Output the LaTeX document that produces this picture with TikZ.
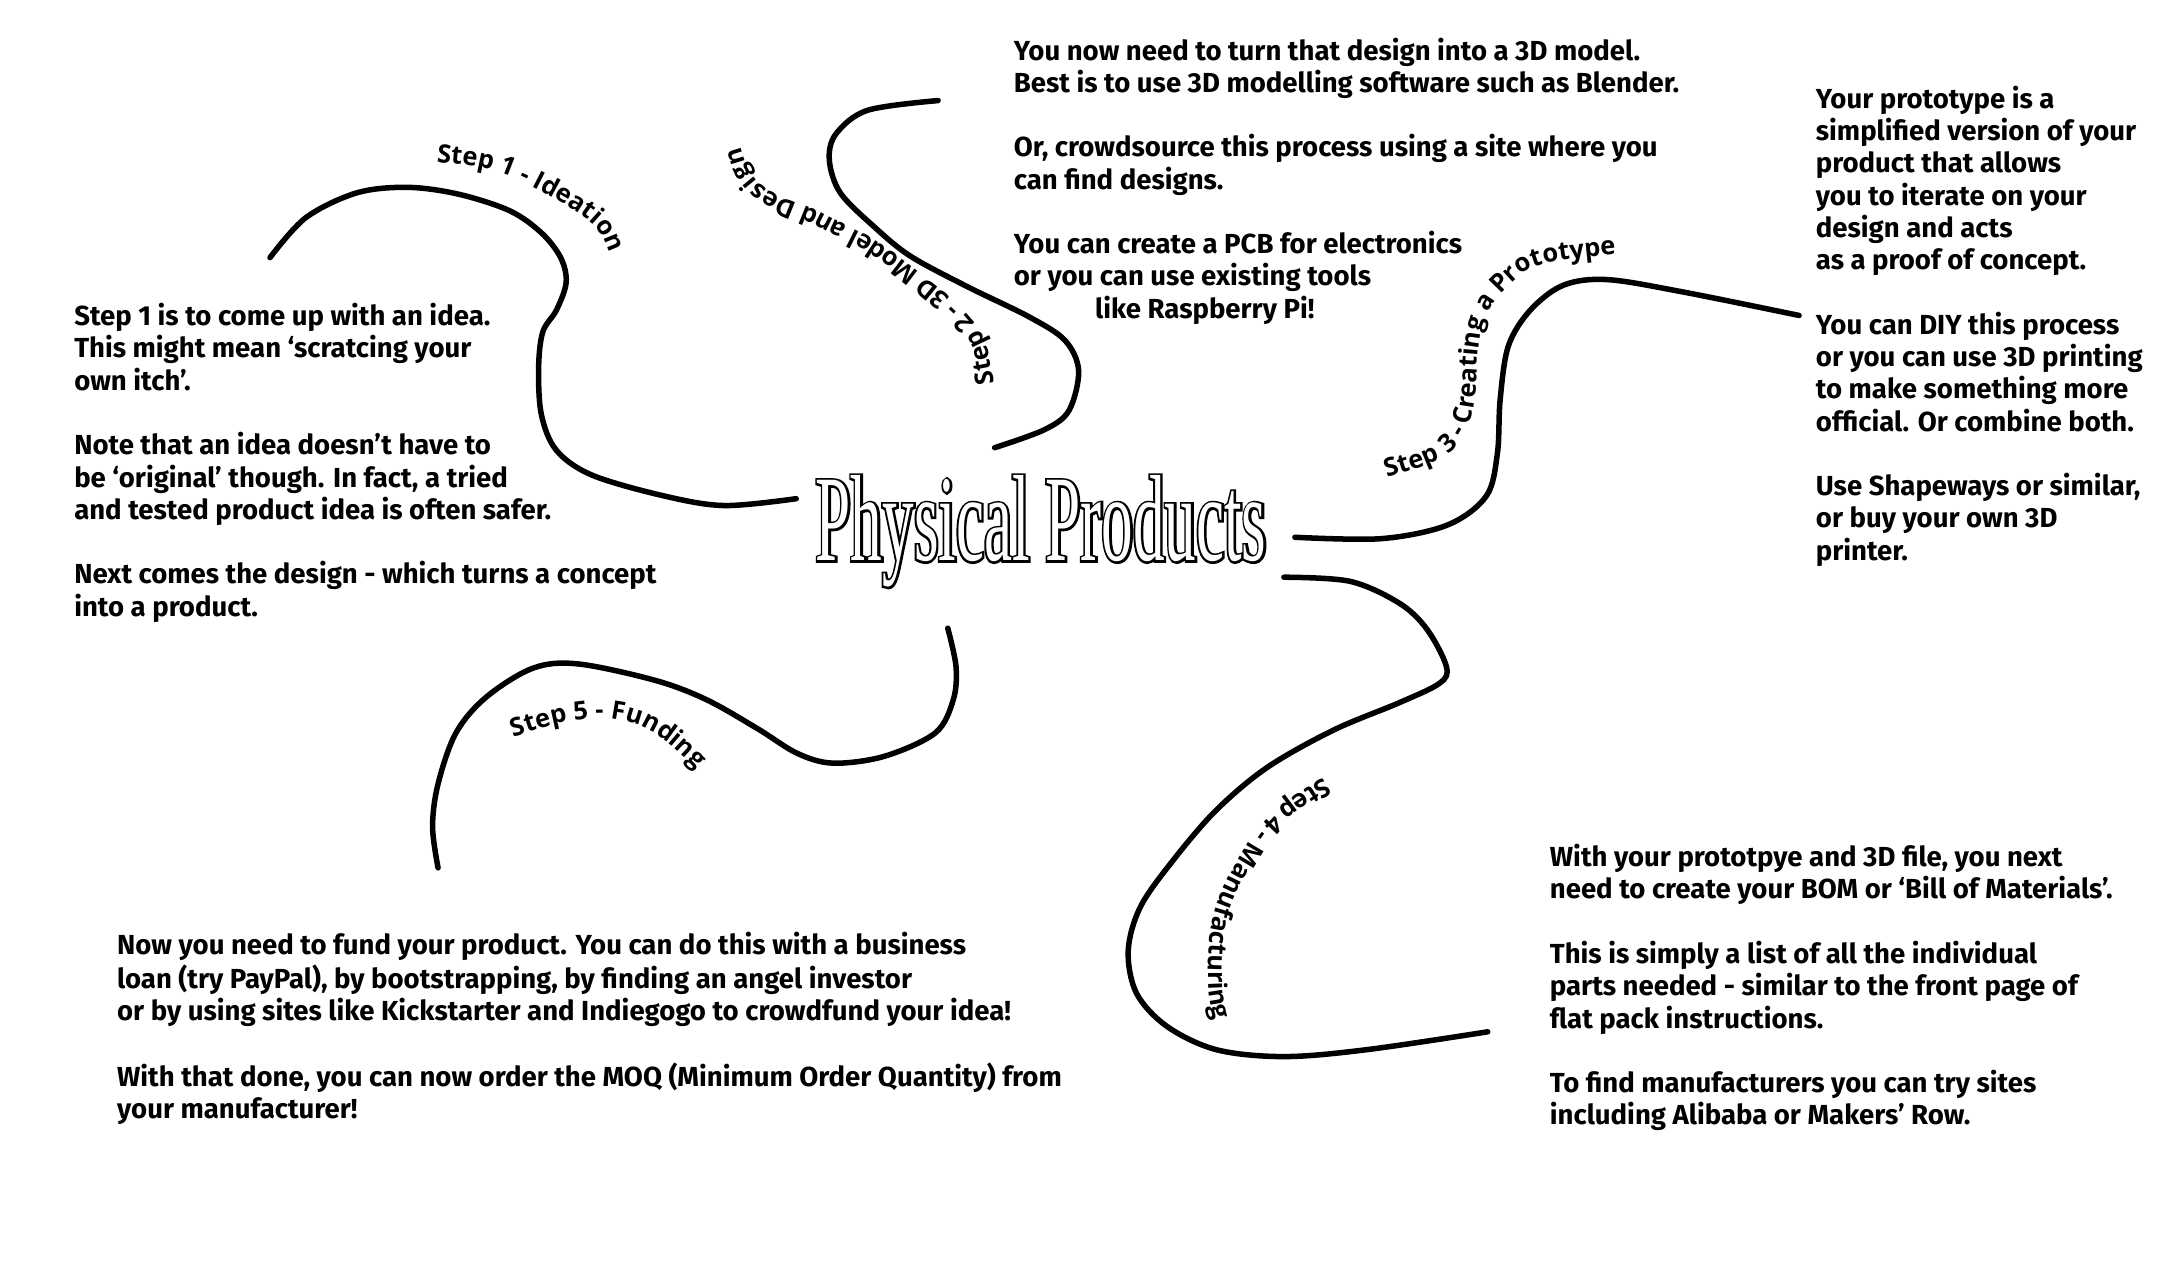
\documentclass[tikz,border=0pt]{standalone}
\usepackage{fontspec}
\usetikzlibrary{decorations.text}
\newfontfamily\bodyfont{Fira Sans}
\newfontfamily\labfont{Open Sans}
\newfontfamily\titlefont{Liberation Serif}[FakeStretch=0.515]
\newfontfamily\titlefontbold{Liberation Serif}[FakeStretch=0.515,FakeBold=3.5]
\newcommand{\blk}[1]{\begin{tabular}[t]{@{}l@{}}#1\end{tabular}}
\tikzset{
  branch/.style={line width=4pt, line cap=round, line join=round},
  body/.style={inner sep=0pt, anchor=base west, font=\bodyfont\bfseries\fontsize{20}{23.43}\selectfont},
  steplabel/.style={decorate, decoration={text along path,
     text={|\labfont\bfseries\fontsize{18.5}{18.5}\selectfont|#1}}},
}
\begin{document}
\begin{tikzpicture}[x=1pt,y=-1pt]
\fill[white] (0,0) rectangle (1568,915);
\useasboundingbox (0,0) rectangle (1568,915);

% title
\node[anchor=base west, inner sep=0pt, font=\titlefontbold\fontsize{89}{89}\selectfont] (title) at (592,407) {Physical Products};
\node[anchor=base west, inner sep=0pt, font=\titlefont\fontsize{89}{89}\selectfont, text=white] (titlew) at (592,407) {Physical Products};

% text blocks
\node[body] (t1) at (53.7,236.4) {\blk{Step 1 is to come up with an idea.\\
This might mean ‘scratcing your\\
own itch’.\\ \\
Note that an idea doesn’t have to\\
be ‘original’ though. In fact, a tried\\
and tested product idea is often safer.\\ \\
Next comes the design - which turns a concept\\
into a product.}};

\node[body] (t2) at (735.8,43.6) {\blk{You now need to turn that design into a 3D model.\\
Best is to use 3D modelling software such as Blender.\\ \\
Or, crowdsource this process using a site where you\\
can find designs.\\ \\
You can create a PCB for electronics\\
or you can use existing tools\\
\hspace*{59pt}like Raspberry Pi!}};

\node[body] (t3) at (1318,78.6) {\blk{Your prototype is a\\
simplified version of your\\
product that allows\\
you to iterate on your\\
design and acts\\
as a proof of concept.\\ \\
You can DIY this process\\
or you can use 3D printing\\
to make something more\\
official. Or combine both.\\ \\
Use Shapeways or similar,\\
or buy your own 3D\\
printer.}};

\node[body] (t4) at (1124.9,629.1) {\blk{With your prototpye and 3D file, you next\\
need to create your BOM or ‘Bill of Materials’.\\ \\
This is simply a list of all the individual\\
parts needed - similar to the front page of\\
flat pack instructions.\\ \\
To find manufacturers you can try sites\\
including Alibaba or Makers’ Row.}};

\node[body] (t5) at (84.8,693.2) {\blk{Now you need to fund your product. You can do this with a business\\
loan (try PayPal), by bootstrapping, by finding an angel investor\\
or by using sites like Kickstarter and Indiegogo to crowdfund your idea!\\ \\
With that done, you can now order the MOQ (Minimum Order Quantity) from\\
your manufacturer!}};

% branch end points
\coordinate (c1a) at (196,187);  \coordinate (c1b) at (578,362);
\coordinate (c2a) at (681,73);   \coordinate (c2b) at (722,325);
\coordinate (c3a) at (940,390);  \coordinate (c3b) at (1306,229);
\coordinate (c4a) at (932,419);  \coordinate (c4b) at (1080,749);
\coordinate (c5a) at (688,456);  \coordinate (c5b) at (318,630);

% branches
\draw[branch] plot[smooth, tension=0.55] coordinates {(c1a) (222,158) (259,140) (296,136) (333,141) (370,153) (393,169) (407,187) (411,205) (404,225) (394,241) (391,267) (393,301) (404,327) (430,345) (482,360) (526,367) (c1b)};
\draw[branch] plot[smooth, tension=0.55] coordinates {(c2a) (630,80) (607,97) (602,116) (610,140) (635,165) (661,186) (702,208) (747,230) (773,247) (783,269) (776,298) (758,312) (c2b)};
\draw[branch] plot[smooth, tension=0.55] coordinates {(c3a) (1003,391) (1051,381) (1079,360) (1087,329) (1089,290) (1095,251) (1111,225) (1135,207) (1167,203) (1222,212) (c3b)};
\draw[branch] plot[smooth, tension=0.55] coordinates {(c4a) (980,422) (1016,438) (1036,457) (1050,484) (1045,496) (1016,510) (968,530) (920,557) (883,588) (852,624) (828,658) (819,690) (825,721) (847,745) (883,762) (932,767) (992,762) (c4b)};
\draw[branch] plot[smooth, tension=0.55] coordinates {(c5a) (694,484) (692,508) (679,532) (642,549) (605,554) (579,547) (550,529) (513,508) (476,494) (420,482) (387,485) (353,506) (331,532) (318,569) (314,600) (c5b)};

% curved step labels
\path[steplabel={Step 1 - Ideation}] (317,118) .. controls (325,119.3) and (346.8,119.2) .. (365,126)
  .. controls (383.2,132.8) and (412.8,149) .. (426,159)
  .. controls (439.2,169) and (439.7,178.3) .. (444,186)
  .. controls (448.3,193.7) and (450.7,201.8) .. (452,205);
\path[steplabel={Step 2 - 3D Model and Design}] (722,278) .. controls (719.5,270.7) and (719.8,250.2) .. (707,234)
  .. controls (694.2,217.8) and (663,194) .. (645,181)
  .. controls (627,168) and (615,164.3) .. (599,156)
  .. controls (583,147.7) and (560,142.8) .. (549,131)
  .. controls (538,119.2) and (536,96) .. (533,85)
  .. controls (530,74) and (531.3,68.3) .. (531,65);
\path[steplabel={Step{\hspace*{7pt}}3 - Creating a Prototype}] (1007,347) .. controls (1014,344) and (1035,338.7) .. (1044,334)
  .. controls (1053,329.3) and (1057.7,324.7) .. (1062,318)
  .. controls (1066.3,311.3) and (1067.7,307.5) .. (1070,294)
  .. controls (1072.3,280.5) and (1071.7,251.5) .. (1076,237)
  .. controls (1080.3,222.5) and (1088.7,214.5) .. (1096,207)
  .. controls (1103.3,199.5) and (1107.8,195.7) .. (1120,192)
  .. controls (1132.2,188.3) and (1157.3,186.2) .. (1169,185)
  .. controls (1180.7,183.8) and (1186.5,185) .. (1195,185);
\path[steplabel={Step 4 - Manufacturing}] (961,564) .. controls (954.8,568.3) and (934.2,580.3) .. (924,590)
  .. controls (913.8,599.7) and (907.2,609.5) .. (900,622)
  .. controls (892.8,634.5) and (884.8,649.7) .. (881,665)
  .. controls (877.2,680.3) and (876.8,701.2) .. (877,714)
  .. controls (877.2,726.8) and (880.2,734.3) .. (882,742)
  .. controls (883.8,749.7) and (887,757) .. (888,760);
\path[steplabel={Step 5 - Funding}] (373,535) .. controls (379.2,533.2) and (397.8,526.2) .. (410,524)
  .. controls (422.2,521.8) and (434.7,520.3) .. (446,522)
  .. controls (457.3,523.7) and (466.5,526.3) .. (478,534)
  .. controls (489.5,541.7) and (507.2,560) .. (515,568)
  .. controls (522.8,576) and (523.3,579.7) .. (525,582);
\end{tikzpicture}
\end{document}
